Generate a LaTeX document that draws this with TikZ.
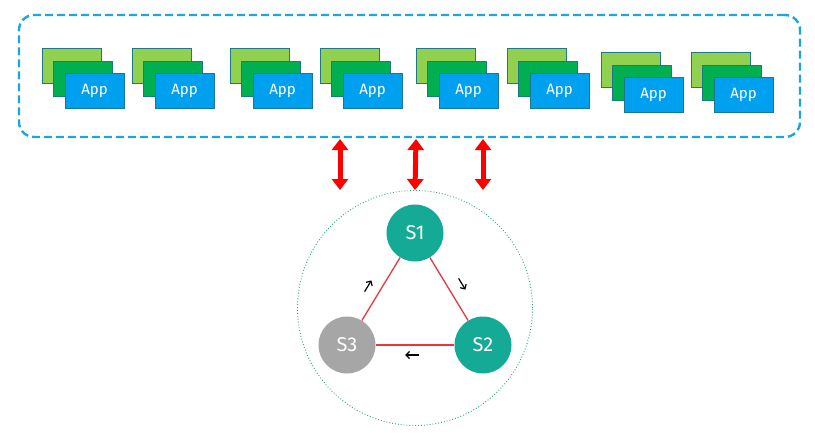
\documentclass[tikz,border=0pt]{standalone}
\usepackage{fontspec}
\setmainfont{Fira Sans}
\usepackage{xcolor}
\usetikzlibrary{calc,arrows.meta,positioning}

\definecolor{panelblue}{RGB}{26,167,222}
\definecolor{cardlight}{RGB}{146,208,80}
\definecolor{cardgreen}{RGB}{0,176,80}
\definecolor{cardblue}{RGB}{0,160,240}
\definecolor{cardedge}{RGB}{30,120,140}
\definecolor{serverteal}{RGB}{20,170,150}
\definecolor{servergray}{RGB}{166,166,166}
\definecolor{ringgreen}{RGB}{40,165,125}
\definecolor{linkred}{RGB}{232,56,61}

\tikzset{
	card/.style={draw=cardedge, line width=0.8pt, minimum width=59pt, minimum height=35pt, inner sep=0pt},
	backcard/.style={card, fill=cardlight},
	midcard/.style={card, fill=cardgreen},
	appcard/.style={card, fill=cardblue, text=white, font=\fontsize{15}{15}\selectfont},
	panel/.style={draw=panelblue, line width=2.4pt, dash pattern=on 8pt off 4pt, rounded corners=15pt, minimum width=781pt, minimum height=122pt},
	bigarrow/.style={red, line width=5pt, {Triangle[width=16pt,length=11pt]}-{Triangle[width=16pt,length=11pt]}},
	ring/.style={circle, draw=ringgreen, line width=0.9pt, dotted, minimum size=235pt},
	server/.style={circle, minimum size=57pt, inner sep=0pt, text=white, font=\fontsize{20}{20}\selectfont},
	link/.style={linkred, line width=1.3pt},
	pointer/.style={black, line width=1.2pt, -{Straight Barb[length=3.5pt,width=7pt]}}
}

\begin{document}
\begin{tikzpicture}[x=1pt,y=-1pt]
		\useasboundingbox (0,0) rectangle (815,432);
		% App panel
		\node[panel] (apps) at (409.5,76) {};
		\foreach \gx/\gy [count=\i] in {42/48,132/48,230/48,320/48,416/48,507/48,601/52,691/52} {
			\node[backcard] (b\i) at (\gx+29.5,\gy+17.5) {};
			\node[midcard] (m\i) at ([shift={(11.5,13)}]b\i.center) {};
			\node[appcard] (a\i) at ([shift={(23,25)}]b\i.center) {App};
		}
		% Server ring
		\node[ring] (ring) at (415,308) {};
		\node[server, fill=serverteal] (s1) at (415,233) {S1};
		\node[server, fill=serverteal] (s2) at (483,345) {S2};
		\node[server, fill=servergray] (s3) at (347,345) {S3};
		\draw[link] (s1) -- (s2);
		\draw[link] (s2) -- (s3);
		\draw[link] (s3) -- (s1);
		\draw[pointer] ($(s1)!0.45!(s2)+(13,-5)$) -- ($(s1)!0.55!(s2)+(13,-5)$);
		\draw[pointer] ($(s2)!0.45!(s3)+(-3,10)$) -- ($(s2)!0.55!(s3)+(-3,10)$);
		\draw[pointer] ($(s3)!0.45!(s1)+(-13,-3)$) -- ($(s3)!0.55!(s1)+(-13,-3)$);
		% Links between panel and ring
		\coordinate (top1) at (340,139);
		\coordinate (top2) at (416,139);
		\coordinate (top3) at (483,139);
		\coordinate (bot1) at (340,190);
		\coordinate (bot3) at (483,190);
		\draw[bigarrow] (top1) -- (bot1);
		\draw[bigarrow] (top2) -- (ring.north);
		\draw[bigarrow] (top3) -- (bot3);
\end{tikzpicture}
\end{document}
